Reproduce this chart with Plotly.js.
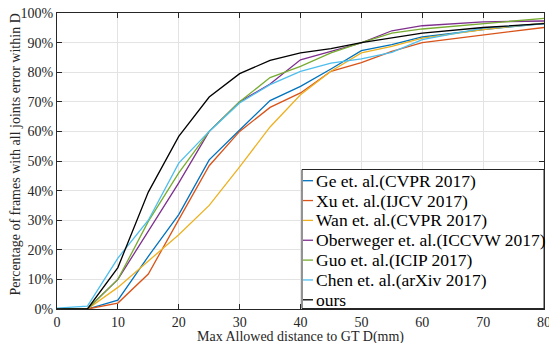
<!DOCTYPE html>
<html>
<head>
<meta charset="utf-8">
<script src="https://cdn.plot.ly/plotly-3.0.1.min.js"></script>
<style>
html,body{margin:0;padding:0;background:#fff;}
#chart{width:549px;height:343px;}
</style>
</head>
<body>
<div id="chart"></div>
<script>
// ---- data ----
var distances = [0,5,10,15,20,25,30,35,40,45,50,55,60,70,80];
var seriesNames = [
  "Ge et. al.(CVPR 2017)",
  "Xu et. al.(IJCV 2017)",
  "Wan et. al.(CVPR 2017)",
  "Oberweger et. al.(ICCVW 2017)",
  "Guo et. al.(ICIP 2017)",
  "Chen et. al.(arXiv 2017)",
  "ours"
];
var geValues    = [0,0,3,17.8,31.9,50.4,60.5,70.4,75.2,81.1,87.3,89.3,91.9,94.4,96.4];
var xuValues    = [0,0,2,11.8,30.2,48.4,60,68.1,73,80.3,83.2,87,90,92.6,95.1];
var wanValues   = [0,0,7.3,16.1,25.1,35,48,61.5,72.4,80.3,86.5,88.7,91.5,94.4,96.6];
var oberValues  = [0,0,10,26.2,42.6,60,70,76,84.2,87,89.9,94,95.7,97,97.3];
var guoValues   = [0,0,10,29.6,46,60,70,78.2,82,86.5,90,93.2,94.6,96.4,98.2];
var chenValues  = [0.3,1,17.2,30,49.3,60,69.6,75.8,80.3,83.1,84.5,86.7,91,94.9,96.4];
var oursValues  = [0,0,14,39.5,58.3,71.6,79.5,84,86.5,88,90,91.5,93.2,95.1,96.4];
var xTicks = [0,10,20,30,40,50,60,70,80];
var yTicks = [0,10,20,30,40,50,60,70,80,90,100];
var xTitle = "Max Allowed distance to GT D(mm)";
var yTitle = "Percentage of frames with all joints error within D";

// ---- styling ----
var allValues = [geValues, xuValues, wanValues, oberValues, guoValues, chenValues, oursValues];
var colors = ["#0072BD","#D95319","#EDB120","#7E2F8E","#77AC30","#4DBEEE","#000000"];
var serif = "'Liberation Serif', 'Times New Roman', serif";
var axisColor = "#262626";

var traces = allValues.map(function(v, i){
  return {
    x: distances, y: v, type: "scatter", mode: "lines",
    name: seriesNames[i],
    line: {color: colors[i], width: 1.3},
    showlegend: false
  };
});

// plot area geometry (pixels)
var L = 57, R = 5, T = 13, B = 34, W = 549, H = 343;
var pw = W - L - R, ph = H - T - B;
function px(xp){ return (xp - L) / pw; }
function py(yp){ return (H - B - yp) / ph; }

var shapes = [];
var annotations = [];

// axis titles placed as in the original
annotations.push({xref:"paper", yref:"paper", x: px(300.5), y: py(337),
  xanchor:"center", yanchor:"middle", showarrow:false, text:xTitle,
  font:{family:serif, size:14, color:axisColor}});
annotations.push({xref:"paper", yref:"paper", x: px(14.5), y: py(155),
  xanchor:"center", yanchor:"middle", showarrow:false, text:yTitle, textangle:-90,
  font:{family:serif, size:14, color:axisColor}});

// custom legend (short line samples, like the original)
shapes.push({type:"rect", xref:"paper", yref:"paper",
  x0: px(302), x1: px(544), y0: py(308.5), y1: py(169.5),
  line:{color:axisColor, width:1}, fillcolor:"rgba(255,255,255,1)", layer:"above"});
seriesNames.forEach(function(name, i){
  var yc = 180.7 + 19.85 * i;
  shapes.push({type:"line", xref:"paper", yref:"paper",
    x0: px(303), x1: px(313), y0: py(yc), y1: py(yc),
    line:{color: colors[i], width: 1.3}, layer:"above"});
  annotations.push({xref:"paper", yref:"paper", x: px(314), y: py(yc),
    xanchor:"left", yanchor:"middle", showarrow:false, text:name,
    font:{family:serif, size:17.5, color:"#000"}});
});

var layout = {
  width: W, height: H,
  margin: {l: L, r: R, t: T, b: B, pad: 0},
  paper_bgcolor: "#fff", plot_bgcolor: "#fff",
  showlegend: false,
  font: {family: serif, size: 14, color: axisColor},
  xaxis: {
    range: [0, 80], tickvals: xTicks, ticktext: xTicks.map(String),
    ticks: "inside", ticklen: 5, tickcolor: axisColor, tickwidth: 1,
    showline: true, linecolor: axisColor, linewidth: 1, mirror: "ticks",
    showgrid: true, gridcolor: "#e3e3e3", gridwidth: 1, zeroline: false,
    ticklabeloverflow: "allow",
    tickfont: {family: serif, size: 14, color: axisColor}
  },
  yaxis: {
    range: [0, 100], tickvals: yTicks, ticktext: yTicks.map(function(v){return v + "%";}),
    ticks: "inside", ticklen: 5, tickcolor: axisColor, tickwidth: 1,
    showline: true, linecolor: axisColor, linewidth: 1, mirror: "ticks",
    showgrid: true, gridcolor: "#e3e3e3", gridwidth: 1, zeroline: false,
    ticklabeloverflow: "allow",
    tickfont: {family: serif, size: 14, color: axisColor}
  },
  shapes: shapes,
  annotations: annotations
};

Plotly.newPlot("chart", traces, layout, {displayModeBar: false, staticPlot: true});
</script>
</body>
</html>
